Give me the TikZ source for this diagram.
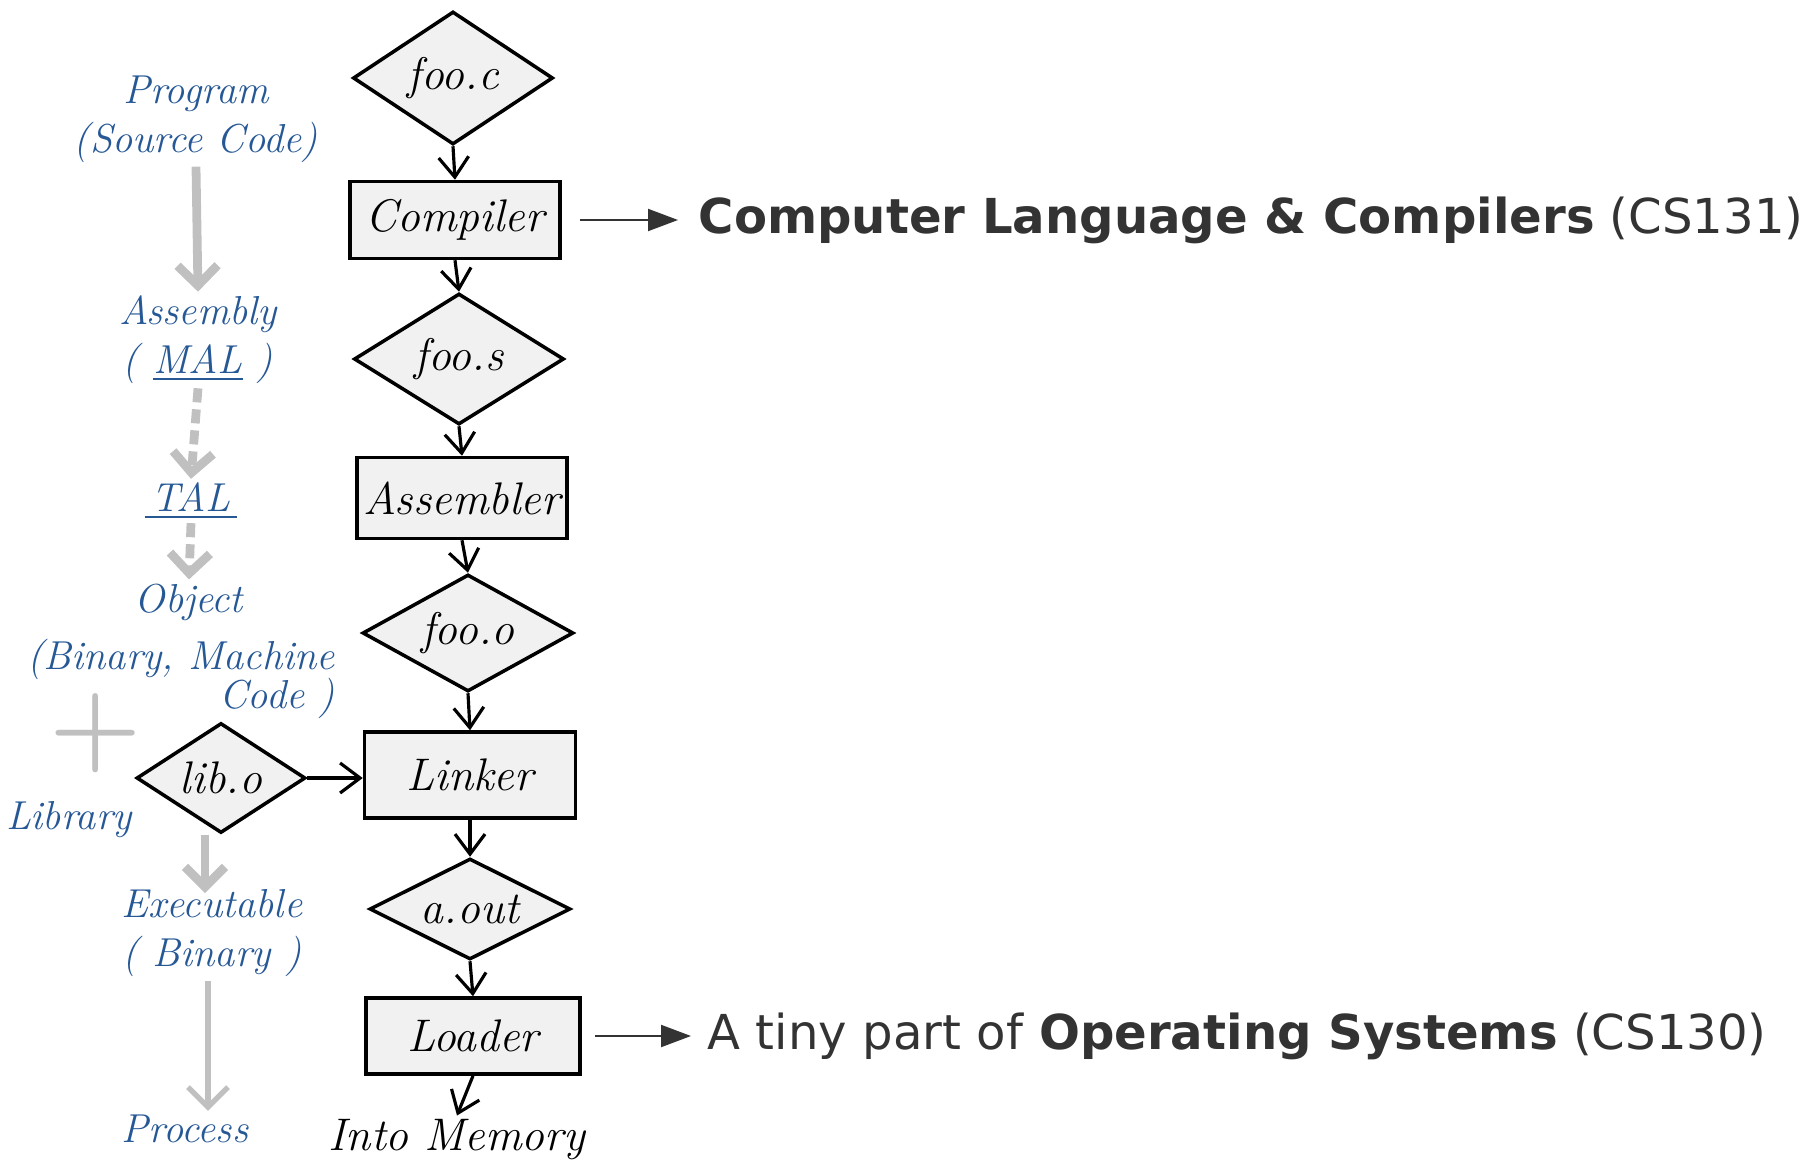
\documentclass[tikz,border=0pt]{standalone}
\usepackage{fontspec}
\newfontfamily\dejavu{DejaVu Sans}
\usetikzlibrary{shapes.geometric,arrows.meta}
\definecolor{ink}{RGB}{38,88,150}
\definecolor{pencil}{RGB}{192,192,192}
\definecolor{boxfill}{RGB}{241,241,241}
\definecolor{textgray}{RGB}{51,51,51}
\tikzset{
	hand/.style={font=\fontsize{13}{15}\selectfont\itshape},
	file/.style={diamond, draw, line width=1pt, fill=boxfill, inner sep=0pt, hand},
	tool/.style={rectangle, draw, line width=1pt, fill=boxfill, inner sep=2pt, minimum width=2.1cm, minimum height=0.8cm, hand},
	flow/.style={-{Straight Barb[length=2mm,width=3mm]}, line width=0.9pt},
	bluenote/.style={text=ink, font=\fontsize{11.5}{14}\selectfont\itshape, align=center, inner sep=1pt},
	graystep/.style={-{Straight Barb[length=2mm,width=4mm]}, pencil, line width=2.5pt},
	course/.style={text=textgray, font=\dejavu\fontsize{13.7}{16}\selectfont, anchor=west, inner sep=0pt},
	pointer/.style={-{Triangle[length=3mm,width=2.2mm]}, line width=0.6pt, textgray}
}
\begin{document}
\begin{tikzpicture}
	\useasboundingbox (0,0) rectangle (18.15,11.65);
	
	% Main column
	\node[file, aspect=1.5, minimum width=2cm, minimum height=1.33cm] (fooc) at (4.53,10.87) {foo.c};
	\node[tool, minimum height=0.77cm] (compiler) at (4.55,9.45) {Compiler};
	\node[file, aspect=1.6, minimum width=2.1cm, minimum height=1.31cm] (foos) at (4.59,8.06) {foo.s};
	\node[tool, minimum height=0.81cm] (assembler) at (4.62,6.67) {Assembler};
	\node[file, aspect=1.8, minimum width=2.11cm, minimum height=1.17cm] (fooo) at (4.68,5.32) {foo.o};
	\node[tool, minimum width=2.11cm, minimum height=0.86cm] (linker) at (4.70,3.90) {Linker};
	\node[file, aspect=2, minimum width=2.01cm, minimum height=1.01cm] (aout) at (4.70,2.56) {a.out};
	\node[tool, minimum width=2.14cm, minimum height=0.76cm] (loader) at (4.73,1.29) {Loader};
	\node[hand, inner sep=1pt] (memory) at (4.57,0.25) {Into Memory};
	\node[file, aspect=1.54, minimum width=1.69cm, minimum height=1.10cm] (libo) at (2.21,3.87) {lib.o};
	
	\draw[flow] (fooc.south) -- (compiler.north);
	\draw[flow] (compiler.south) -- (foos.north);
	\draw[flow] (foos.south) -- (assembler.north);
	\draw[flow] (assembler.south) -- (fooo.north);
	\draw[flow] (fooo.south) -- (linker.north);
	\draw[flow] (linker.south) -- (aout.north);
	\draw[flow] (aout.south) -- (loader.north);
	\draw[flow] (loader.south) -- (memory.north);
	\draw[flow] (libo.east) -- (libo.east -| linker.west);
	
	% Notes on the left
	\node[bluenote] (program) at (1.96,10.46) {Program\\(Source Code)};
	\node[bluenote] (assembly) at (1.98,8.25) {Assembly\\( \underline{MAL} )};
	\node[bluenote] (tal) at (1.91,6.64) {\underline{\,TAL\,}};
	\node[bluenote] (object) at (1.89,5.63) {Object};
	\node[bluenote, align=right, anchor=east] (objnote) at (3.39,4.86) {(Binary, Machine\\[-3pt]Code )};
	\node[text=pencil, font=\fontsize{30}{30}\selectfont\bfseries] (plus) at (0.96,4.32) {+};
	\node[bluenote] (library) at (0.69,3.45) {Library};
	\node[bluenote] (executable) at (2.12,2.32) {Executable\\( Binary )};
	\node[bluenote] (process) at (1.85,0.36) {Process};
	
	\draw[graystep] (program.south) -- (assembly.north);
	\draw[graystep, dash pattern=on 4pt off 2pt] (assembly.south) -- (tal.north);
	\draw[graystep, dash pattern=on 4pt off 2pt] (tal.south) -- (object.north);
	\draw[graystep, shorten >=-0.08cm] ([xshift=-0.16cm]libo.south) -- ([xshift=-0.16cm]libo.south |- executable.north);
	\draw[graystep, line width=1.5pt] ([xshift=-0.04cm]executable.south) -- ([xshift=-0.04cm]executable.south |- process.north);
	
	% Courses on the right
	\node[course] (cs131) at (6.98,9.45) {\textbf{Computer Language \& Compilers} (CS131)};
	\node[course] (cs130) at (7.07,1.29) {A tiny part of \textbf{Operating Systems} (CS130)};
	\draw[pointer] ([xshift=0.18cm]compiler.east) -- ([xshift=-0.2cm]cs131.west);
	\draw[pointer] ([xshift=0.13cm]loader.east) -- ([xshift=-0.16cm]cs130.west);
\end{tikzpicture}
\end{document}
